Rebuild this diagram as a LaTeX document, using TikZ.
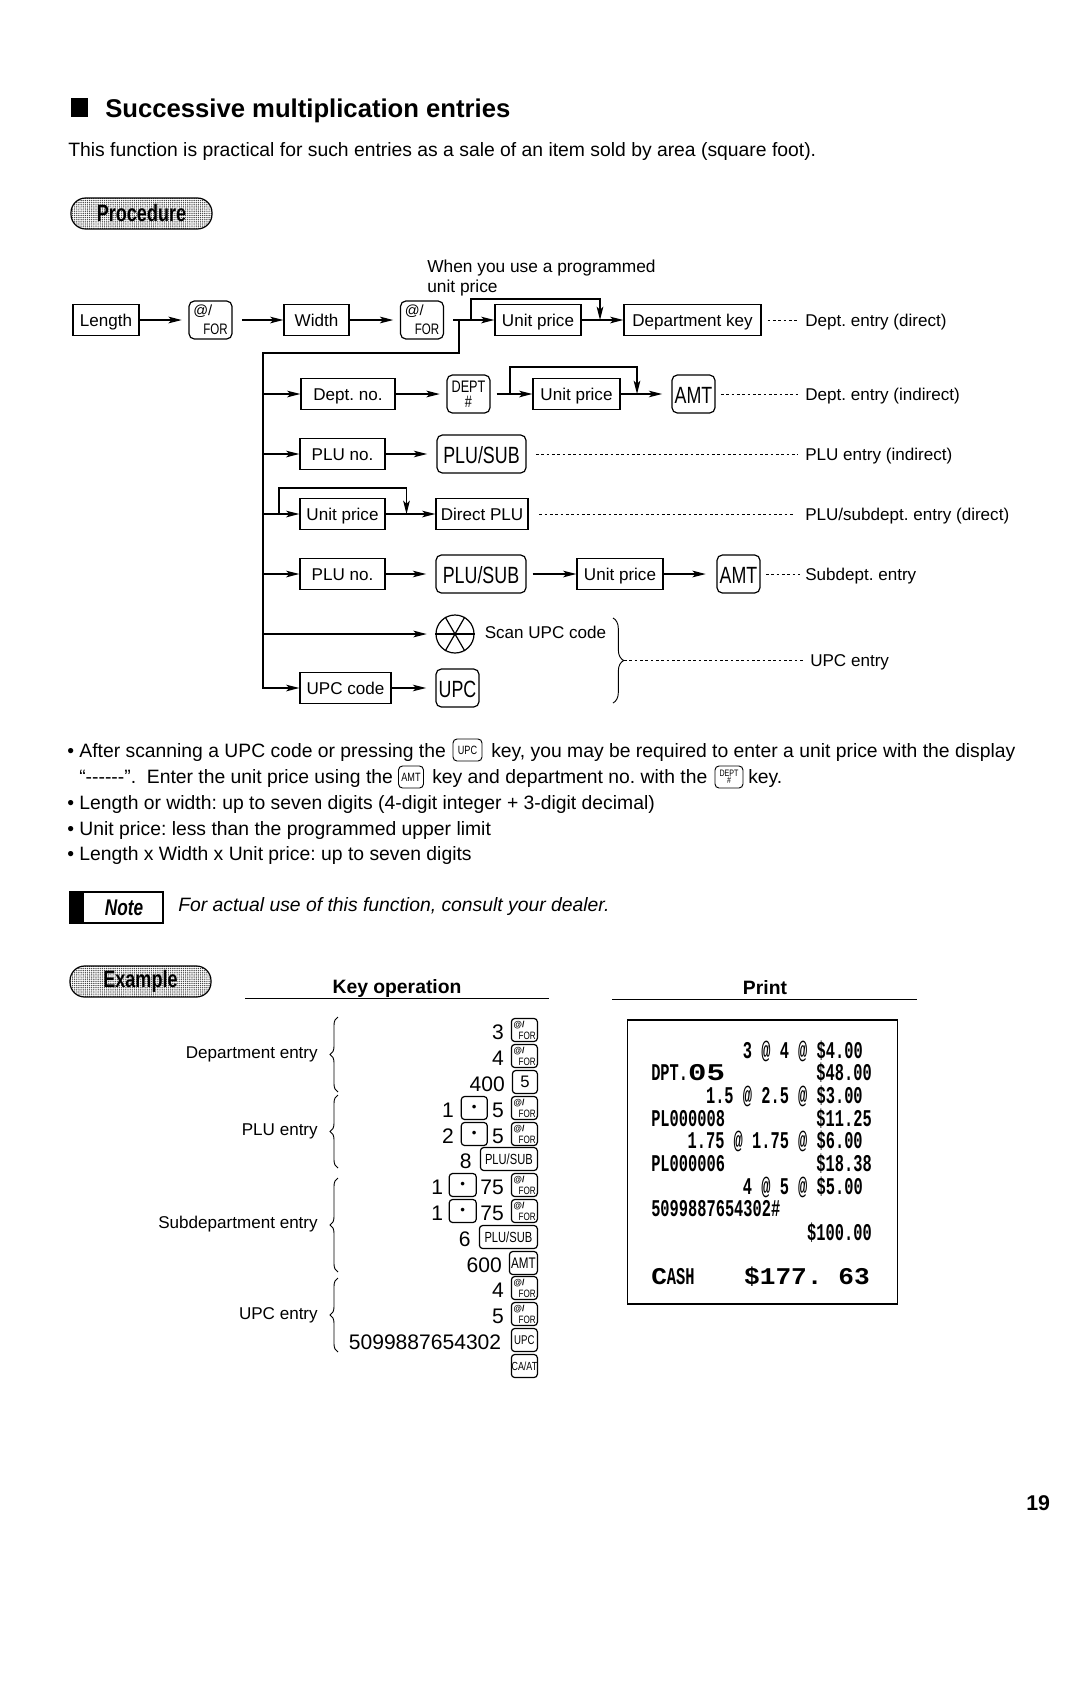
\documentclass[tikz,border=0pt]{standalone}
\usepackage{fontspec}
\setmainfont{Liberation Sans}
\newfontfamily\keyfont[FakeStretch=0.76]{Liberation Sans}
\newfontfamily\receiptfont[FakeStretch=0.64]{Liberation Mono}
\newfontfamily\receiptwide[FakeStretch=1.09]{Liberation Mono}
\newfontfamily\receiptwider[FakeStretch=1.28]{Liberation Mono}
\usetikzlibrary{arrows.meta, positioning, decorations.pathreplacing, patterns.meta}
\newcommand{\fsz}[1]{\fontsize{#1}{#1}\selectfont}
\frenchspacing

\begin{document}
\begin{tikzpicture}[
    x=0.75pt, y=-0.75pt,
    boxsize/.style 2 args={minimum width=#1*0.75pt, minimum height=#2*0.75pt},
    pen/.style={line width=0.9pt},
    boxnode/.style={draw, pen, inner sep=0pt, text height=10.5pt, text depth=1.5pt, font=\fsz{12.8}},
    keynode/.style={draw, pen, rounded corners=4pt, inner sep=0pt, align=center},
    bigkey/.style={keynode, boxsize={#1}{38}, text height=14.5pt, text depth=0pt, font=\keyfont\fsz{17.6}},
    forbig/.style={keynode, boxsize={43}{38},
        label={[font=\fsz{11}, anchor=north west, inner sep=3.5pt]north west:@/},
        label={[font=\keyfont\fsz{11.4}, anchor=south east, inner sep=3.5pt]south east:FOR}},
    forsmall/.style={keynode, rounded corners=2.5pt, boxsize={26}{23}, anchor=east,
        label={[font=\bfseries\fsz{6.5}, anchor=north west, inner sep=2pt]north west:@/},
        label={[font=\keyfont\fsz{8}, anchor=south east, inner sep=1.5pt]south east:FOR}},
    smallkey/.style={keynode, rounded corners=2.5pt, anchor=east, boxsize={#1}{23}, font=\keyfont\fsz{11}},
    dotkey/.style={keynode, rounded corners=2.5pt, boxsize={#1}{23}},
    inlinekey/.style={keynode, line width=0.7pt, rounded corners=3pt, boxsize={#1}{22}, font=\keyfont\fsz{9}},
    flow/.style={pen, -{Stealth[length=10pt, width=5pt, inset=2.5pt]}},
    tokey/.style={flow, shorten >=5pt},
    leader/.style={line width=0.7pt, dash pattern=on 2pt off 2pt},
    rlabel/.style={inner sep=0pt, anchor=west, text height=10.5pt, text depth=1.5pt, font=\fsz{12.8}},
    tag/.style={rlabel, anchor=east},
    body/.style={inner sep=0pt, anchor=base west, font=\fsz{14.5}},
    pill/.style={draw, pen, rounded corners=11pt, boxsize={141}{31}, font=\keyfont\bfseries\fsz{17.8},
        pattern={Dots[distance=1.6pt, radius=0.55pt]}, pattern color=black!75},
    num/.style={inner sep=0pt, yshift=-1.5pt, font=\fsz{15.8}},
    bracel/.style={line width=0.7pt, decorate, decoration={brace, amplitude=6pt}},
    rec/.style={inner sep=0pt, anchor=base east, font=\receiptfont\bfseries\fsz{18}},
    recl/.style={rec, anchor=base west}
]
    \useasboundingbox (0,0) rectangle (1080,1696);

    % heading
    \node[fill=black, boxsize={17}{19}, inner sep=0pt] (mark) at (79.5,107.5) {};
    \node[body, font=\bfseries\fsz{19.25}] (title) at (105,117) {Successive multiplication entries};
    \node[body] (intro) at (68,156) {This function is practical for such entries as a sale of an item sold by area (square foot).};
    \node[pill] (procedure) at (141.5,213.5) {Procedure};

    % first row
    \node[body, font=\fsz{13}] (prog1) at (427,272) {When you use a programmed};
    \node[body, font=\fsz{13}] (prog2) at (427,292) {unit price};
    \node[boxnode, boxsize={66}{31}] (length) at (106,320) {Length};
    \node[forbig] (for1) at (210.5,320) {};
    \node[boxnode, boxsize={65}{31}] (width) at (316.5,320) {Width};
    \node[forbig] (for2) at (422,320) {};
    \node[boxnode, boxsize={86}{31}] (unit1) at (538,320) {Unit price};
    \node[boxnode, boxsize={137}{31}] (deptkey) at (692.5,320) {Department key};
    \node[rlabel] (ldirect) at (805,320) {Dept. entry (direct)};
    \coordinate (j0) at (459,320);
    \coordinate (j1) at (471,320);
    \coordinate (j2) at (600,320);
    \coordinate (b0) at (263,353);
    \coordinate (b1) at (263,688);
    \draw[tokey] (length) -- (for1);
    \draw[flow, shorten <=7pt] (for1) -- (width);
    \draw[tokey] (width) -- (for2);
    \draw[flow, shorten <=7pt] (for2) -- (unit1);
    \draw[flow] (j1) -- ++(0,-21) -| (j2);
    \draw[flow] (unit1) -- (deptkey);
    \draw[leader, shorten <=4.5pt, shorten >=5pt] (deptkey) -- (ldirect);

    % dept. no.
    \node[boxnode, boxsize={94}{31}] (deptno) at (348,394) {Dept. no.};
    \node[keynode, boxsize={43}{38}, font=\keyfont\fsz{12.5}] (deptk) at (468.5,394) {DEPT\\[-1pt]\#};
    \node[boxnode, boxsize={87}{31}] (unit2) at (576.5,394) {Unit price};
    \node[bigkey=43] (amt1) at (693.5,394) {AMT};
    \node[rlabel] (lindirect) at (805,394) {Dept. entry (indirect)};
    \coordinate (j3) at (510,394);
    \coordinate (j4) at (637,394);
    \draw[flow] (b0 |- deptno) -- (deptno);
    \draw[tokey] (deptno) -- (deptk);
    \draw[flow, shorten <=4.5pt] (deptk) -- (unit2);
    \draw[flow] (j3) -- ++(0,-27) -| (j4);
    \draw[flow, shorten >=7pt] (unit2) -- (amt1);
    \draw[leader, shorten <=4pt, shorten >=5pt] (amt1) -- (lindirect);

    % plu no.
    \node[boxnode, boxsize={85}{31}] (pluno1) at (342.5,454) {PLU no.};
    \node[bigkey=89] (plusub1) at (481.5,454) {PLU/SUB};
    \node[rlabel] (lplu) at (805,454) {PLU entry (indirect)};
    \draw[flow] (b0 |- pluno1) -- (pluno1);
    \draw[tokey, shorten >=7pt] (pluno1) -- (plusub1);
    \draw[leader, shorten <=7pt, shorten >=5pt] (plusub1) -- (lplu);

    % direct plu
    \node[boxnode, boxsize={85}{31}] (unit3) at (342.5,514) {Unit price};
    \node[boxnode, boxsize={92}{31}] (direct) at (482,514) {Direct PLU};
    \node[rlabel] (lsubdirect) at (805,514) {PLU/subdept. entry (direct)};
    \coordinate (j5) at (279,514);
    \coordinate (j6) at (406.5,514);
    \draw[flow] (b0 |- unit3) -- (unit3);
    \draw[flow] (unit3) -- (direct);
    \draw[flow] (j5) -- ++(0,-26) -| (j6);
    \draw[leader, shorten <=8pt, shorten >=8pt] (direct) -- (lsubdirect);

    % subdept
    \node[boxnode, boxsize={85}{31}] (pluno2) at (342.5,574) {PLU no.};
    \node[bigkey=90] (plusub2) at (481,574) {PLU/SUB};
    \node[boxnode, boxsize={86}{31}] (unit4) at (620,574) {Unit price};
    \node[bigkey=43] (amt2) at (738.5,574) {AMT};
    \node[rlabel] (lsub) at (805,574) {Subdept. entry};
    \draw[flow] (b0 |- pluno2) -- (pluno2);
    \draw[tokey, shorten >=7pt] (pluno2) -- (plusub2);
    \draw[flow, shorten <=4.5pt] (plusub2) -- (unit4);
    \draw[tokey, shorten >=8pt] (unit4) -- (amt2);
    \draw[leader, shorten <=4pt, shorten >=4pt] (amt2) -- (lsub);

    % upc
    \node[draw, pen, circle, minimum size=28.5pt, inner sep=0pt] (scan) at (455,634) {};
    \draw[pen] (scan.west) -- (scan.east);
    \draw[pen] (scan.120) -- (scan.300);
    \draw[pen] (scan.60) -- (scan.240);
    \node[rlabel] (scantxt) at (484.5,632) {Scan UPC code};
    \node[boxnode, boxsize={91}{31}] (upccode) at (345.5,688) {UPC code};
    \node[bigkey=43] (upck) at (457.5,688) {UPC};
    \node[rlabel] (lupc) at (810,660) {UPC entry};
    \coordinate (bt) at (613,618);
    \coordinate (bb) at (613,703);
    \coordinate (bmid) at (624,660);
    \draw[flow] (j0) |- (b0) -- (b1) -- (upccode);
    \draw[flow, shorten >=6.5pt] (b0 |- scan) -- (scan);
    \draw[tokey, shorten >=7pt] (upccode) -- (upck);
    \draw[bracel, decoration={amplitude=8pt}] (bt) -- (bb);
    \draw[leader, shorten >=4pt] (bmid) -- (lupc);

    % notes
    \node[body] (n1a) at (67,757) {• After scanning a UPC code or pressing the};
    \node[inlinekey=29] (kupc) at (467.5,750) {UPC};
    \node[body] (n1b) at (491,757) {key, you may be required to enter a unit price with the display};
    \node[body] (n2a) at (79,783) {“-{}-{}-{}-{}-{}-”.~ Enter the unit price using the};
    \node[inlinekey=25] (kamt) at (411,777) {AMT};
    \node[body] (n2b) at (432,783) {key and department no. with the};
    \node[inlinekey=28, font=\keyfont\fsz{7}] (kdept) at (729,777) {DEPT\\[-2pt]\#};
    \node[body] (n2c) at (748,783) {key.};
    \node[body] (n3) at (67,809) {• Length or width: up to seven digits (4-digit integer + 3-digit decimal)};
    \node[body] (n4) at (67,835) {• Unit price: less than the programmed upper limit};
    \node[body] (n5) at (67,860) {• Length x Width x Unit price: up to seven digits};
    \node[draw, pen, boxsize={93}{31}] (notebox) at (116.5,907.5) {};
    \node[fill=black, boxsize={14}{31}, inner sep=0pt, anchor=west] (notebar) at (notebox.west) {};
    \node[inner sep=0pt, font=\keyfont\bfseries\itshape\fsz{17}] (notetxt) at (124,908) {Note};
    \node[body, font=\itshape\fsz{14.5}] (notemsg) at (178,911) {For actual use of this function, consult your dealer.};

    % key operation
    \node[pill] (example) at (140.5,981.5) {Example};
    \node[inner sep=0pt, font=\bfseries\fsz{14.5}] (keyop) at (397,988) {Key operation};
    \node[inner sep=0pt, font=\bfseries\fsz{14.5}] (print) at (765,988) {Print};
    \draw[pen] (245,998.5) -- (549,998.5);
    \draw[pen] (612,999.5) -- (917,999.5);

    \node[forsmall] (r1) at (538,1030) {};
    \node[num, left=5pt of r1] (d1) {3};
    \node[forsmall] (r2) at (538,1056) {};
    \node[num, left=5pt of r2] (d2) {4};
    \node[smallkey=25, font=\fsz{12.5}] (r3) at (538,1082) {5};
    \node[num, left=5pt of r3] (d3) {400};
    \node[forsmall] (r4) at (538,1108) {};
    \node[num, left=5pt of r4] (d4) {5};
    \node[dotkey=26, left=3pt of d4, yshift=1.5pt] (p4) {•};
    \node[num, left=5pt of p4] (e4) {1};
    \node[forsmall] (r5) at (538,1134) {};
    \node[num, left=5pt of r5] (d5) {5};
    \node[dotkey=26, left=3pt of d5, yshift=1.5pt] (p5) {•};
    \node[num, left=5pt of p5] (e5) {2};
    \node[smallkey=57] (r6) at (538,1159) {PLU/SUB};
    \node[num, left=6pt of r6] (d6) {8};
    \node[forsmall] (r7) at (538,1185) {};
    \node[num, left=5pt of r7] (d7) {75};
    \node[dotkey=27, left=2.5pt of d7, yshift=1.5pt] (p7) {•};
    \node[num, left=4pt of p7] (e7) {1};
    \node[forsmall] (r8) at (538,1211) {};
    \node[num, left=5pt of r8] (d8) {75};
    \node[dotkey=27, left=2.5pt of d8, yshift=1.5pt] (p8) {•};
    \node[num, left=4pt of p8] (e8) {1};
    \node[smallkey=58] (r9) at (538,1237) {PLU/SUB};
    \node[num, left=6pt of r9] (d9) {6};
    \node[smallkey=28, font=\keyfont\fsz{11.5}] (r10) at (538,1263) {AMT};
    \node[num, left=5pt of r10] (d10) {600};
    \node[forsmall] (r11) at (538,1288) {};
    \node[num, left=5pt of r11] (d11) {4};
    \node[forsmall] (r12) at (538,1314) {};
    \node[num, left=5pt of r12] (d12) {5};
    \node[smallkey=26, font=\keyfont\fsz{9.5}] (r13) at (538,1340) {UPC};
    \node[num, left=7pt of r13] (d13) {5099887654302};
    \node[smallkey=26, font=\keyfont\fsz{8.8}] (r14) at (538,1366) {CA/AT};

    \node[tag] (tdept) at (318,1052) {Department entry};
    \node[tag] (tplu) at (318,1129) {PLU entry};
    \node[tag] (tsub) at (318,1222) {Subdepartment entry};
    \node[tag] (tupc) at (318,1313) {UPC entry};
    \coordinate (a1) at (338,1017);
    \coordinate (a2) at (338,1092);
    \coordinate (a3) at (338,1095);
    \coordinate (a4) at (338,1168);
    \coordinate (a5) at (338,1178);
    \coordinate (a6) at (338,1272);
    \coordinate (a7) at (338,1278);
    \coordinate (a8) at (338,1352);
    \draw[bracel] (a2) -- (a1);
    \draw[bracel] (a4) -- (a3);
    \draw[bracel] (a6) -- (a5);
    \draw[bracel] (a8) -- (a7);

    % receipt
    \node[draw, pen, boxsize={270}{284}] (receipt) at (762.5,1162) {};
    \node[rec] (p1) at (863,1058) {3 @ 4 @ \$4.00};
    \node[recl] (p2) at (651,1080) {DPT.{\receiptwider 05}};
    \node[rec] (p3) at (872,1080) {\$48.00};
    \node[rec] (p4r) at (863,1103) {1.5 @ 2.5 @ \$3.00};
    \node[recl] (p5l) at (651,1126) {PL000008};
    \node[rec] (p5r) at (872,1126) {\$11.25};
    \node[rec] (p6) at (863,1148) {1.75 @ 1.75 @ \$6.00};
    \node[recl] (p7l) at (651,1171) {PL000006};
    \node[rec] (p7r) at (872,1171) {\$18.38};
    \node[rec] (p8r) at (863,1194) {4 @ 5 @ \$5.00};
    \node[recl] (p9) at (651,1216) {5099887654302\#};
    \node[rec] (p10) at (872,1240) {\$100.00};
    \node[recl] (p11) at (651,1284) {{\receiptwide C}ASH};
    \node[rec, font=\receiptwide\bfseries\fsz{18}] (p12) at (870,1284) {\$177. 63};

    \node[body, font=\bfseries\fsz{16}] (page) at (1026,1510) {19};
\end{tikzpicture}
\end{document}
